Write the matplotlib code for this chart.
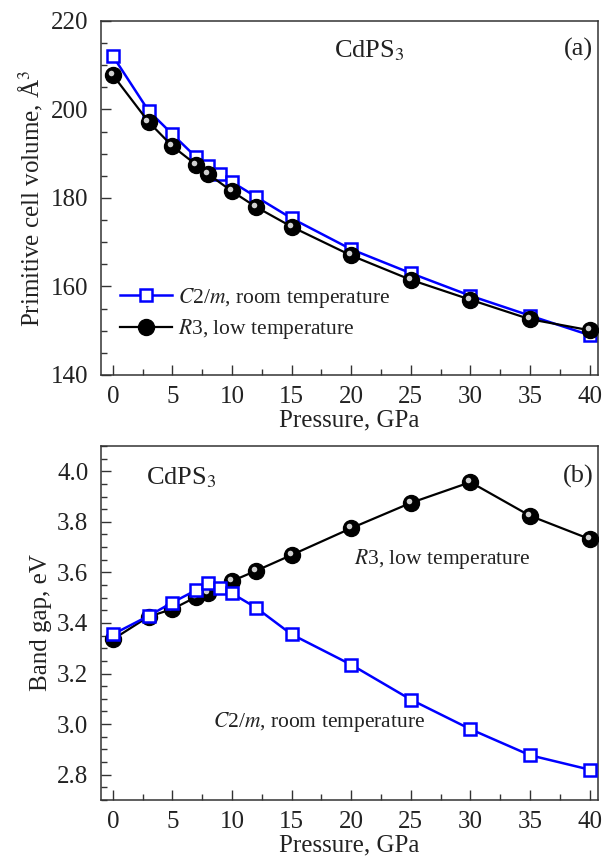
import numpy as np
import matplotlib
matplotlib.use('Agg')
import matplotlib.pyplot as plt
from matplotlib.ticker import MultipleLocator, FormatStrFormatter
from matplotlib.transforms import ScaledTranslation

plt.rcParams['font.family'] = ['Liberation Serif', 'DejaVu Serif']
plt.rcParams['mathtext.fontset'] = 'stix'

# Pressure points (GPa)
p_c2m = np.array([0, 3, 5, 7, 8, 9, 10, 12, 15, 20, 25, 30, 35, 40])
p_r3 = np.array([0, 3, 5, 7, 8, 10, 12, 15, 20, 25, 30, 35, 40])

# Primitive cell volume (A^3)
vol_c2m = np.array([212.1, 199.7, 194.4, 189.2, 187.3, 185.4, 183.6, 180.3, 175.4,
                    168.4, 163.0, 157.9, 153.4, 149.0])
vol_r3 = np.array([207.8, 197.2, 191.7, 187.5, 185.4, 181.5, 178.0, 173.5, 167.0,
                   161.5, 157.0, 152.6, 150.1])

# Band gap (eV)
gap_c2m = np.array([3.355, 3.428, 3.481, 3.530, 3.559, 3.539, 3.517, 3.461, 3.355,
                    3.235, 3.097, 2.980, 2.877, 2.820])
gap_r3 = np.array([3.335, 3.425, 3.455, 3.503, 3.519, 3.566, 3.606, 3.669, 3.775,
                   3.875, 3.957, 3.824, 3.732])

fig = plt.figure(figsize=(6.04, 8.6), dpi=100)
ax1 = fig.add_axes([0.167, 0.564, 0.823, 0.4116])
ax2 = fig.add_axes([0.167, 0.0698, 0.823, 0.4116])

blue = '#0000ff'
txt = '#222222'


def draw_balls(ax, x, y, label=None, z=3):
    ax.plot(x, y, '-', color='black', lw=1.6, marker='o', markersize=11.5,
            markerfacecolor='black', markeredgecolor='black', label=label, zorder=z)
    # small highlight to mimic the shaded spheres
    off = ScaledTranslation(-1.5 / 72, 1.5 / 72, fig.dpi_scale_trans)
    ax.plot(x, y, 'o', color='#d0d0d0', markersize=4, markeredgewidth=0,
            transform=ax.transData + off, zorder=z + 0.1)


def style(ax):
    ax.set_xlim(-1, 40.7)
    ax.xaxis.set_major_locator(MultipleLocator(5))
    ax.xaxis.set_minor_locator(MultipleLocator(2.5))
    ax.tick_params(which='both', direction='in', labelsize=18, width=1,
                   colors='#333333', labelcolor=txt)
    ax.tick_params(which='major', length=7)
    ax.tick_params(which='minor', length=4)
    ax.tick_params(axis='x', pad=8)
    ax.tick_params(axis='y', pad=9)
    for s in ax.spines.values():
        s.set_color('#333333')
        s.set_linewidth(1.1)
    ax.set_xlabel('Pressure, GPa', fontsize=18, color=txt, labelpad=1)


# (a) volume
ax1.plot(p_c2m, vol_c2m, '-', color=blue, lw=1.8, marker='s', markersize=8,
         markerfacecolor='white', markeredgecolor=blue, markeredgewidth=1.8,
         label='$C$2/$m$, room temperature', zorder=2)
draw_balls(ax1, p_r3, vol_r3, label='$R$3, low temperature', z=3)
ax1.set_ylim(140, 220)
ax1.yaxis.set_major_locator(MultipleLocator(20))
ax1.yaxis.set_minor_locator(MultipleLocator(5))
style(ax1)
ax1.set_ylabel('Primitive cell volume, Å$^3$', fontsize=18, color=txt, labelpad=4)
ax1.text(0.54, 0.915, 'CdPS$_3$', transform=ax1.transAxes, fontsize=19,
         color=txt, ha='center', va='center')
ax1.text(0.96, 0.92, '(a)', transform=ax1.transAxes, fontsize=19,
         color=txt, ha='center', va='center')
leg = ax1.legend(loc='lower left', bbox_to_anchor=(0.0, 0.04), frameon=False,
                 fontsize=15.5, handlelength=2.4, labelspacing=0.35,
                 handletextpad=0.3)
for t in leg.get_texts():
    t.set_color(txt)

# (b) band gap
ax2.plot(p_c2m, gap_c2m, '-', color=blue, lw=1.8, marker='s', markersize=8,
         markerfacecolor='white', markeredgecolor=blue, markeredgewidth=1.8,
         zorder=4)
draw_balls(ax2, p_r3, gap_r3, z=3)
ax2.set_ylim(2.7, 4.1)
ax2.yaxis.set_major_locator(MultipleLocator(0.2))
ax2.yaxis.set_minor_locator(MultipleLocator(0.05))
ax2.yaxis.set_major_formatter(FormatStrFormatter('%.1f'))
style(ax2)
ax2.set_ylabel('Band gap, eV', fontsize=18, color=txt, labelpad=4)
ax2.text(0.09, 0.91, 'CdPS$_3$', transform=ax2.transAxes, fontsize=19,
         color=txt, ha='left', va='center')
ax2.text(0.96, 0.915, '(b)', transform=ax2.transAxes, fontsize=19,
         color=txt, ha='center', va='center')
ax2.text(0.51, 0.68, '$R$3, low temperature', transform=ax2.transAxes,
         fontsize=15.5, color=txt, ha='left', va='center')
ax2.text(0.225, 0.22, '$C$2/$m$, room temperature', transform=ax2.transAxes,
         fontsize=15.5, color=txt, ha='left', va='center')

fig.savefig('out.png', dpi=100)
